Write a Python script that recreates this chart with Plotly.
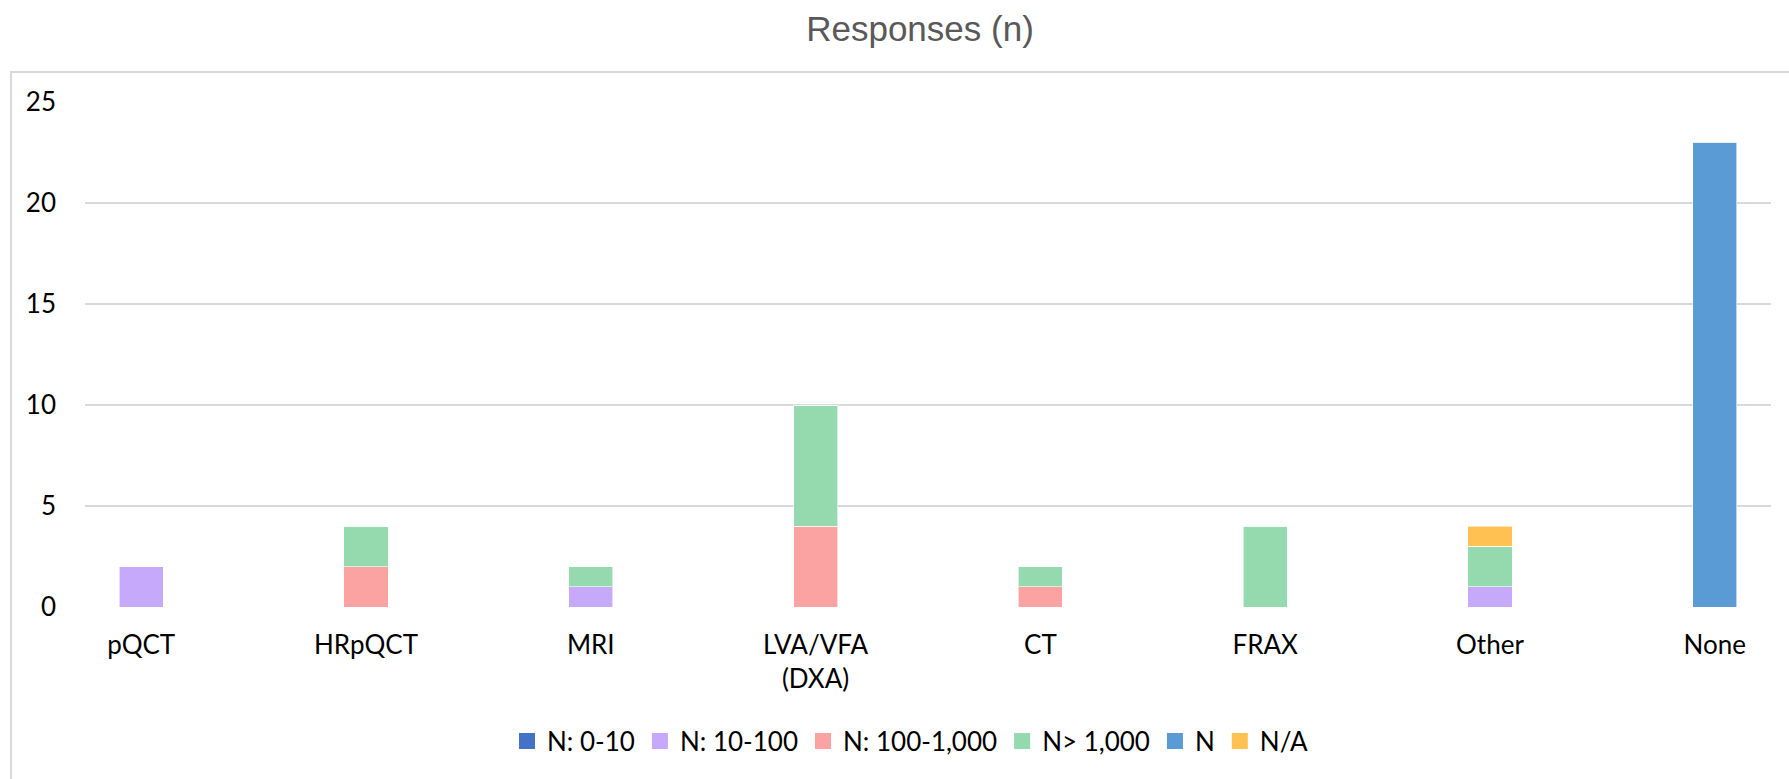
import plotly.graph_objects as go

categories = ["pQCT", "HRpQCT", "MRI", "LVA/VFA<br>(DXA)", "CT", "FRAX", "Other", "None"]

n_0_10 = [0, 0, 0, 0, 0, 0, 0, 0]
n_10_100 = [2, 0, 1, 0, 0, 0, 1, 0]
n_100_1000 = [0, 2, 0, 4, 1, 0, 0, 0]
n_gt_1000 = [0, 2, 1, 6, 1, 4, 2, 0]
n_plain = [0, 0, 0, 0, 0, 0, 0, 23]
n_na = [0, 0, 0, 0, 0, 0, 1, 0]

series = [
    ("N: 0-10", n_0_10, "#4472C4"),
    ("N: 10-100", n_10_100, "#C6A9FB"),
    ("N: 100-1,000", n_100_1000, "#FBA3A3"),
    ("N> 1,000", n_gt_1000, "#95D9AE"),
    ("N", n_plain, "#5B9BD5"),
    ("N/A", n_na, "#FFC152"),
]

y_ticks = [0, 5, 10, 15, 20, 25]

FONT = "Lato"
fig = go.Figure()
xs = list(range(len(categories)))
for name, vals, color in series:
    fig.add_trace(go.Bar(
        x=xs, y=vals, name=name, showlegend=False, legendgroup=name,
        marker=dict(color=color, line=dict(color="rgba(255,255,255,0.6)", width=1)),
    ))
# legend entries with larger square swatches
for name, vals, color in series:
    fig.add_trace(go.Scatter(
        x=[None], y=[None], mode="markers", name=name, legendgroup=name,
        marker=dict(symbol="square", size=16, color=color),
    ))

W, H = 1789, 779
L, R, T, B = 85, 18, 102, 172
pw, ph = W - L - R, H - T - B

fig.update_layout(
    barmode="stack",
    bargap=0.804,
    width=W, height=H,
    margin=dict(l=L, r=R, t=T, b=B, pad=0),
    paper_bgcolor="white",
    plot_bgcolor="white",
    font=dict(family=FONT, size=26, color="#000000"),
    title=dict(
        text="Responses (n)",
        font=dict(family="Liberation Sans", size=35, color="#595959"),
        x=920 / W, xanchor="center",
        y=1 - 29 / H, yanchor="middle",
    ),
    xaxis=dict(
        tickmode="array", tickvals=xs, ticktext=categories,
        range=[-0.25, 7.25],
        showgrid=False, zeroline=False, showline=False,
        ticks="", ticklabelstandoff=20,
        tickfont=dict(family=FONT, size=26, color="#000000"),
        fixedrange=True,
    ),
    yaxis=dict(
        range=[0, 25],
        tickmode="array", tickvals=y_ticks,
        showgrid=True, gridcolor="#D9D9D9", gridwidth=1.5,
        zeroline=False, showline=False,
        ticks="", ticklabelstandoff=28,
        tickfont=dict(family=FONT, size=26, color="#000000"),
        fixedrange=True,
    ),
    legend=dict(
        orientation="h",
        x=(910 - L) / pw, xanchor="center",
        y=(607 - 741) / ph, yanchor="middle",
        font=dict(family=FONT, size=26, color="#000000"),
        itemwidth=30,
        traceorder="normal",
        bgcolor="rgba(0,0,0,0)",
    ),
    shapes=[dict(
        type="rect", xref="paper", yref="paper",
        x0=(11 - L) / pw, x1=(W + 20 - L) / pw,
        y0=(607 - H - 20) / ph, y1=(607 - 72) / ph,
        line=dict(color="#D9D9D9", width=2),
        fillcolor="rgba(0,0,0,0)", layer="below",
    )],
    showlegend=True,
)

fig.write_html("out.html", config={"displayModeBar": False},
               post_script="document.body.style.margin='0';document.body.style.overflow='hidden';")
